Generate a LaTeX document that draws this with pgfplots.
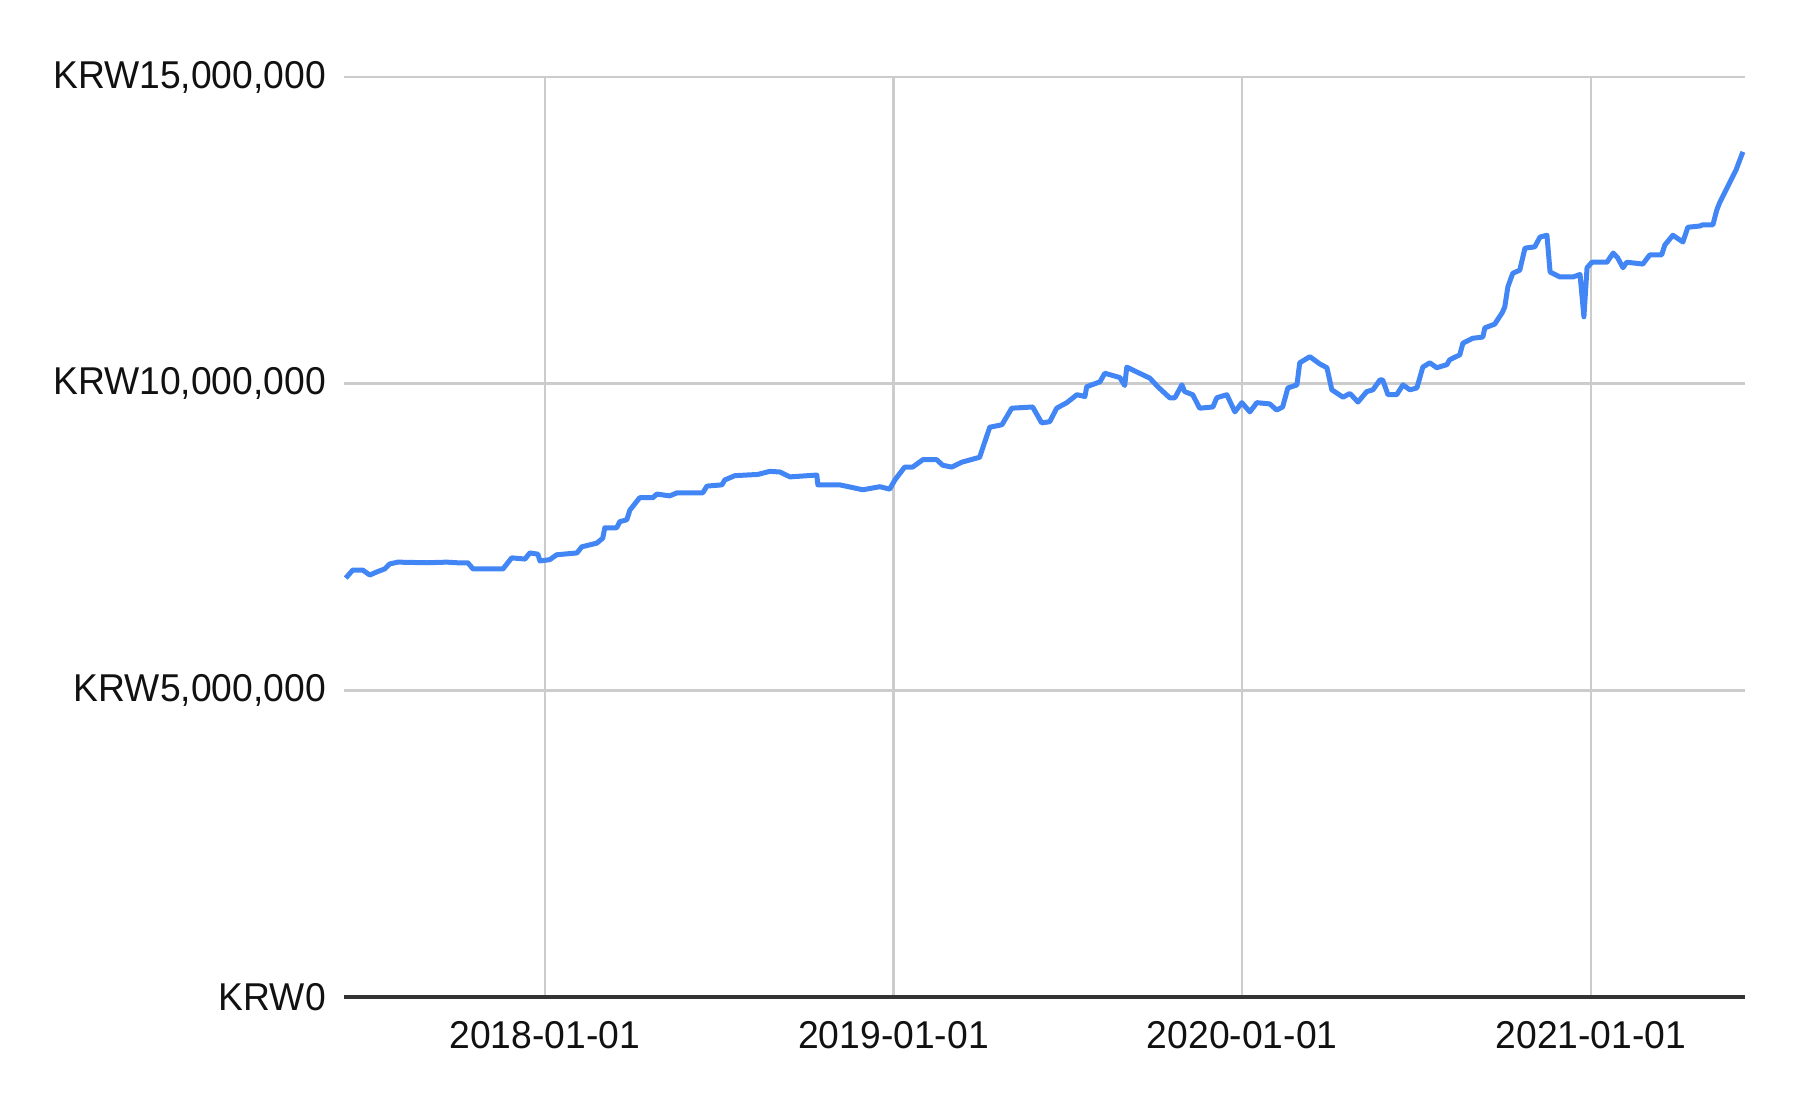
\documentclass[border=0pt]{standalone}
\usepackage{fontspec}
\setmainfont{Liberation Sans}[FakeStretch=0.96]
\usepackage{pgfplots}
\pgfplotsset{compat=1.18}
\definecolor{lineblue}{HTML}{4285F4}
\definecolor{gridgray}{HTML}{CCCCCC}
\definecolor{axisdark}{HTML}{333333}
\definecolor{labelcol}{HTML}{111111}

\begin{document}
\begin{tikzpicture}
\begin{axis}[
  name=ax, scale only axis, width=350.25pt, height=230pt,
  xmin=2017.424, xmax=2021.442, ymin=0, ymax=15,
  xtick={2018,2019,2020,2021},
  xticklabels={2018-01-01,2019-01-01,2020-01-01,2021-01-01},
  ytick={0,5,10,15},
  yticklabels={{KRW0},{KRW5,000,000},{KRW10,000,000},{KRW15,000,000}},
  tick label style={font=\fontsize{9.7}{11}\selectfont, text=labelcol},
  yticklabel style={xshift=-1pt},
  xticklabel style={yshift=-2.5pt},
  major tick length=0pt,
  grid=major, major grid style={draw=gridgray, line width=0.6pt},
  separate axis lines,
  axis x line*=bottom, axis y line*=left,
  x axis line style={draw=axisdark, line width=0.8pt, -},
  y axis line style={draw=none},
]
\addplot[lineblue, line width=1.25pt, line join=round] table {
x y
2017.429 6.83
2017.449 6.96
2017.478 6.96
2017.498 6.88
2017.518 6.93
2017.541 6.98
2017.555 7.06
2017.578 7.09
2017.662 7.08
2017.719 7.09
2017.748 7.08
2017.779 7.08
2017.794 6.98
2017.880 6.98
2017.905 7.16
2017.943 7.14
2017.957 7.24
2017.980 7.22
2017.986 7.11
2018.014 7.13
2018.034 7.21
2018.092 7.24
2018.106 7.34
2018.149 7.40
2018.166 7.48
2018.172 7.65
2018.206 7.65
2018.215 7.75
2018.235 7.78
2018.244 7.94
2018.272 8.14
2018.310 8.14
2018.321 8.20
2018.358 8.17
2018.379 8.22
2018.453 8.22
2018.465 8.33
2018.508 8.35
2018.516 8.43
2018.545 8.50
2018.611 8.52
2018.645 8.57
2018.674 8.56
2018.703 8.48
2018.780 8.51
2018.783 8.35
2018.846 8.35
2018.912 8.27
2018.961 8.32
2018.989 8.28
2019.004 8.43
2019.032 8.64
2019.055 8.64
2019.084 8.76
2019.124 8.76
2019.141 8.67
2019.167 8.64
2019.196 8.72
2019.247 8.80
2019.276 9.29
2019.311 9.33
2019.339 9.60
2019.399 9.62
2019.425 9.36
2019.448 9.38
2019.468 9.60
2019.497 9.69
2019.526 9.82
2019.549 9.79
2019.554 9.95
2019.592 10.03
2019.606 10.17
2019.649 10.10
2019.663 9.97
2019.669 10.27
2019.698 10.19
2019.735 10.09
2019.758 9.95
2019.792 9.77
2019.807 9.77
2019.827 9.98
2019.835 9.87
2019.858 9.82
2019.878 9.60
2019.916 9.62
2019.927 9.77
2019.956 9.82
2019.979 9.54
2019.999 9.69
2020.022 9.54
2020.042 9.69
2020.079 9.67
2020.099 9.57
2020.116 9.62
2020.131 9.93
2020.157 9.98
2020.165 10.34
2020.194 10.44
2020.223 10.32
2020.243 10.26
2020.257 9.90
2020.289 9.78
2020.309 9.84
2020.332 9.70
2020.357 9.87
2020.375 9.90
2020.395 10.06
2020.403 10.06
2020.418 9.82
2020.443 9.82
2020.461 9.98
2020.481 9.90
2020.501 9.93
2020.518 10.27
2020.538 10.34
2020.558 10.26
2020.587 10.31
2020.595 10.39
2020.624 10.47
2020.633 10.66
2020.661 10.74
2020.690 10.76
2020.696 10.91
2020.724 10.97
2020.745 11.15
2020.753 11.25
2020.762 11.58
2020.776 11.80
2020.796 11.85
2020.811 12.21
2020.839 12.23
2020.854 12.39
2020.874 12.42
2020.883 11.82
2020.911 11.74
2020.949 11.74
2020.969 11.78
2020.980 11.09
2020.989 11.89
2021.003 11.98
2021.046 11.98
2021.064 12.13
2021.077 12.05
2021.092 11.89
2021.103 11.98
2021.149 11.95
2021.169 12.10
2021.203 12.10
2021.212 12.26
2021.235 12.42
2021.264 12.31
2021.278 12.55
2021.312 12.57
2021.321 12.59
2021.350 12.59
2021.361 12.83
2021.370 12.96
2021.393 13.22
2021.416 13.48
2021.436 13.78
};
\end{axis}
\pgfresetboundingbox
\useasboundingbox ([shift={(-86pt,-29pt)}]ax.south west) rectangle ([shift={(13.75pt,19.25pt)}]ax.north east);
\end{tikzpicture}
\end{document}
